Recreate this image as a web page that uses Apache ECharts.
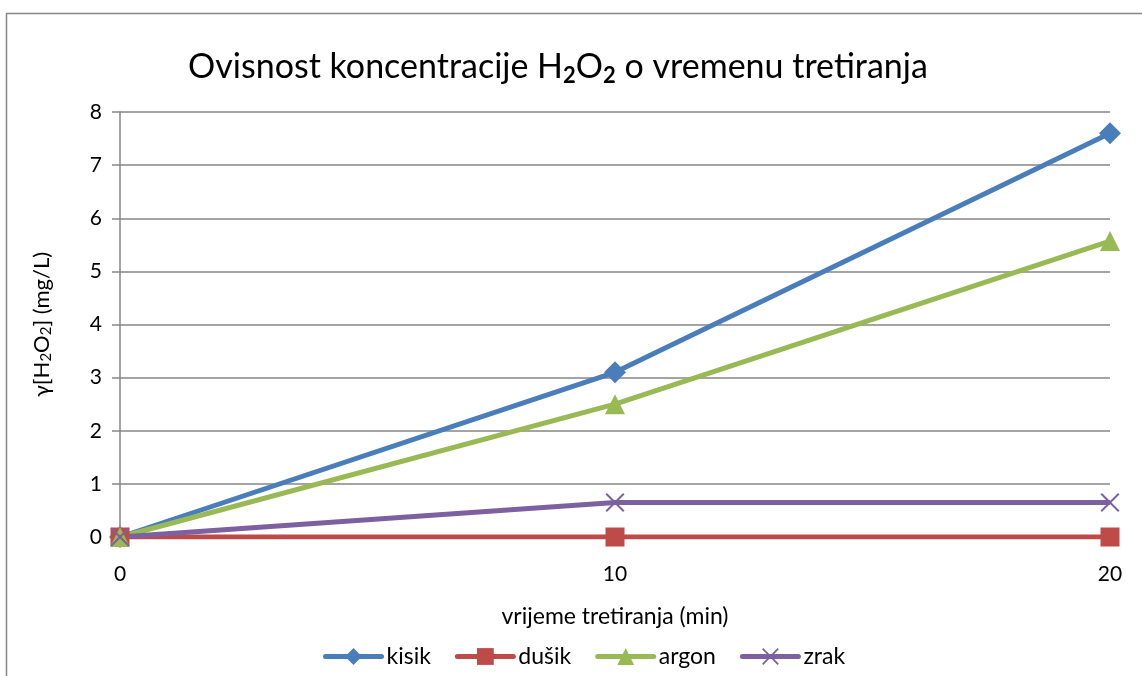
<!DOCTYPE html>
<html>
<head>
<meta charset="utf-8">
<script src="https://cdn.jsdelivr.net/npm/echarts@6/dist/echarts.min.js"></script>
<style>html,body{margin:0;padding:0;background:#fff}#c{width:1142px;height:676px}</style>
</head>
<body>
<div id="c"></div>
<script>
const xValues = [0, 10, 20];
const kisik = [0, 3.1, 7.6];
const dusik = [0, 0, 0];
const argon = [0, 2.5, 5.57];
const zrak = [0, 0.65, 0.65];
const seriesNames = ['kisik', 'dušik', 'argon', 'zrak'];
const yTicks = [0, 1, 2, 3, 4, 5, 6, 7, 8];

const FONT = 'Lato';
const crossPath = 'path://M0,1.5L1.5,0L10,8.5L18.5,0L20,1.5L11.5,10L20,18.5L18.5,20L10,11.5L1.5,20L0,18.5L8.5,10Z';
const pairs = arr => xValues.map((x, i) => [x, arr[i]]);

const chart = echarts.init(document.getElementById('c'));
const mk = (name, data, color, symbol, size) => ({
  name, type: 'line', data: pairs(data), symbol, symbolSize: size,
  showAllSymbol: true,
  lineStyle: { color, width: 5 },
  itemStyle: { color },
  emphasis: { disabled: true },
  animation: false
});
chart.setOption({
  animation: false,
  textStyle: { fontFamily: FONT },
  graphic: [{
    type: 'rect', shape: { x: 6.5, y: 13.5, width: 1200, height: 700 },
    style: { fill: 'none', stroke: '#868686', lineWidth: 1.5 }, silent: true
  }],
  title: {
    text: '{a|Ovisnost koncentracije H}{s|2}{a|O}{s|2}{a| o vremenu tretiranja}',
    left: 553, top: 42, textAlign: 'center',
    textStyle: {
      rich: {
        a: { fontFamily: FONT, fontSize: 34, color: '#000', fontWeight: 'normal' },
        s: { fontFamily: FONT, fontSize: 22, color: '#000', padding: [18, 0, 0, 0] }
      }
    }
  },
  grid: { left: 120, right: 32, top: 112, bottom: 139, containLabel: false },
  xAxis: {
    type: 'value', min: 0, max: 20, interval: 10,
    name: 'vrijeme tretiranja (min)', nameLocation: 'middle', nameGap: 68,
    nameTextStyle: { fontFamily: FONT, fontSize: 23, color: '#000' },
    axisLine: { show: true, lineStyle: { color: '#868686', width: 1.5 } },
    axisTick: { show: false },
    splitLine: { show: false },
    axisLabel: { fontFamily: FONT, fontSize: 21, color: '#000', margin: 27 }
  },
  yAxis: {
    type: 'value', min: 0, max: 8, interval: 1,
    name: '{a|γ[H}{s|2}{a|O}{s|2}{a|] (mg/L)}', nameLocation: 'middle', nameGap: 66, nameRotate: 90,
    nameTextStyle: {
      rich: {
        a: { fontFamily: FONT, fontSize: 22, color: '#000' },
        s: { fontFamily: FONT, fontSize: 15, color: '#000', padding: [9, 0, 0, 0] }
      }
    },
    axisLine: { show: true, lineStyle: { color: '#868686', width: 1.5 } },
    axisTick: { show: true, length: 8, lineStyle: { color: '#868686', width: 1.5 } },
    splitLine: { show: true, lineStyle: { color: '#868686', width: 1.5 } },
    axisLabel: { fontFamily: FONT, fontSize: 21, color: '#000', margin: 18,
      formatter: v => yTicks.includes(v) ? String(v) : '' }
  },
  legend: {
    bottom: 3, left: 318, itemWidth: 56, itemHeight: 21, itemGap: 24,
    lineStyle: { width: 5, cap: 'round' },
    textStyle: { fontFamily: FONT, fontSize: 23, color: '#000' },
    data: seriesNames
  },
  series: [
    mk(seriesNames[0], kisik, '#4A7EBB', 'diamond', 22),
    mk(seriesNames[1], dusik, '#BE4B48', 'rect', 19),
    mk(seriesNames[2], argon, '#98B954', 'triangle', 20),
    mk(seriesNames[3], zrak, '#7D60A0', crossPath, 19)
  ]
});
</script>
</body>
</html>
